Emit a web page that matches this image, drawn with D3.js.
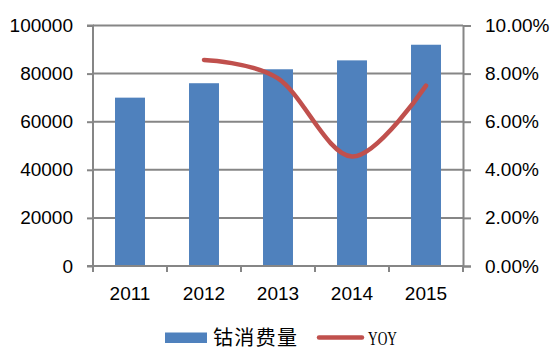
<!DOCTYPE html>
<html>
<head>
  <meta charset="utf-8">
  <title>钴消费量</title>
  <script src="https://d3js.org/d3.v7.min.js"></script>
  <style>
    body { margin: 0; background: #fff; }
    text { font-family: "Liberation Sans", Arial, sans-serif; fill: #000; }
  </style>
</head>
<body>
  <script>
    // data
    var years = ["2011", "2012", "2013", "2014", "2015"];
    var consumption = [70000, 76000, 81800, 85500, 92000];
    var yoy = [null, 0.0857, 0.078, 0.0455, 0.075];
    var leftTicks = [0, 20000, 40000, 60000, 80000, 100000];
    var rightTicks = [0, 0.02, 0.04, 0.06, 0.08, 0.10];

    var W = 557, H = 359;
    var margin = {top: 25.5, right: 94, bottom: 93, left: 93};
    var width = W - margin.left - margin.right,
        height = H - margin.top - margin.bottom;

    var svg = d3.select("body").append("svg")
        .attr("width", W).attr("height", H);
    var g = svg.append("g")
        .attr("transform", `translate(${margin.left},${margin.top})`);

    var x = d3.scaleBand().domain(years).range([0, width]).paddingInner(0.595).paddingOuter(0.2975);
    var xBand = d3.scaleBand().domain(years).range([0, width]);
    var yL = d3.scaleLinear().domain([0, 100000]).range([height, 0]);
    var yR = d3.scaleLinear().domain([0, 0.10]).range([height, 0]);

    var gray = "#868686";

    // gridlines
    g.selectAll(".grid").data(leftTicks.slice(1))
      .enter().append("line")
      .attr("x1", 0).attr("x2", width)
      .attr("y1", d => yL(d)).attr("y2", d => yL(d))
      .attr("stroke", gray).attr("stroke-width", 2);

    // bars
    g.selectAll(".bar").data(consumption)
      .enter().append("rect")
      .attr("x", (d, i) => x(years[i]))
      .attr("width", x.bandwidth())
      .attr("y", d => yL(d))
      .attr("height", d => height - yL(d))
      .attr("fill", "#4F81BD");

    // left axis
    var axL = g.append("g").call(d3.axisLeft(yL).tickValues(leftTicks).tickSize(6).tickPadding(14).tickFormat(d3.format("d")));
    // right axis
    var axR = g.append("g").attr("transform", `translate(${width},0)`)
      .call(d3.axisRight(yR).tickValues(rightTicks).tickSize(8).tickPadding(14).tickFormat(d => (d * 100).toFixed(2) + "%"));
    // bottom axis, ticks at category boundaries
    var axB = g.append("g").attr("transform", `translate(0,${height})`)
      .call(d3.axisBottom(xBand).tickSize(0).tickPadding(21));
    var bounds = years.map(y => xBand(y)).concat([width]);
    axB.selectAll(".bnd").data(bounds).enter().append("line")
      .attr("x1", d => d).attr("x2", d => d).attr("y1", 0).attr("y2", 6)
      .attr("stroke", gray).attr("stroke-width", 2);

    [axL, axR, axB].forEach(function(a) {
      a.select(".domain").attr("stroke", gray).attr("stroke-width", 2);
      a.selectAll(".tick line").attr("stroke", gray).attr("stroke-width", 2);
      a.selectAll(".tick text").style("font-size", "19px").attr("fill", "#000")
        .style("font-family", "'Liberation Sans', Arial, sans-serif");
    });
    axB.select(".domain").attr("d", `M0,0H${width}`);
    axL.select(".domain").attr("d", `M-6,${height}H0V0H-6`);

    // YOY line
    var pts = yoy.map((v, i) => [xBand(years[i]) + xBand.bandwidth() / 2, v]).filter(p => p[1] !== null);
    g.append("path")
      .datum(pts)
      .attr("d", d3.line().x(p => p[0]).y(p => yR(p[1])).curve(d3.curveCardinal.tension(0)))
      .attr("fill", "none")
      .attr("stroke", "#C0504D")
      .attr("stroke-width", 4.5)
      .attr("stroke-linecap", "round");

    // legend
    var lg = svg.append("g");
    lg.append("rect").attr("x", 165).attr("y", 332.5).attr("width", 42).attr("height", 10.5).attr("fill", "#4F81BD");
    lg.append("text").attr("x", 213).attr("y", 345)
      .style("font-family", "'Noto Sans CJK SC', sans-serif").style("font-size", "20px")
      .attr("textLength", 84).text("钴消费量");
    lg.append("line").attr("x1", 319).attr("x2", 362).attr("y1", 337.5).attr("y2", 337.5)
      .attr("stroke", "#C0504D").attr("stroke-width", 4.5).attr("stroke-linecap", "round");
    lg.append("text").attr("x", 368).attr("y", 345)
      .style("font-family", "'Liberation Serif', serif").style("font-size", "19px")
      .attr("textLength", 29).attr("lengthAdjust", "spacingAndGlyphs").text("YOY");
  </script>
</body>
</html>
